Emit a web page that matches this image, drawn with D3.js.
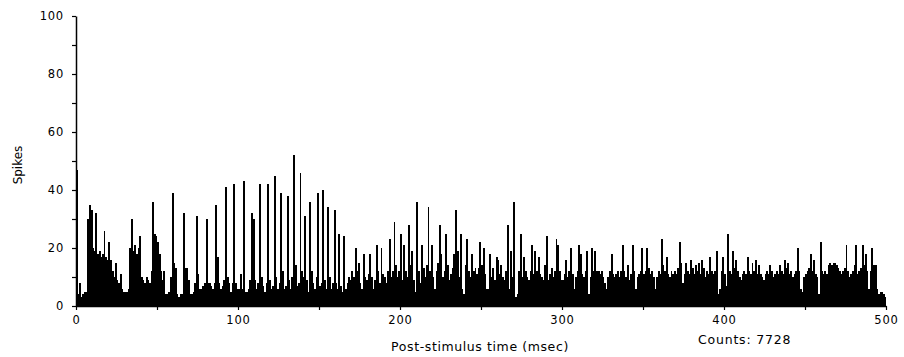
<!DOCTYPE html>
<html>
<head>
<meta charset="utf-8">
<script src="https://cdn.jsdelivr.net/npm/d3@7"></script>
<style>
  body { margin: 0; background: #fff; }
  svg { display: block; }
  text { font-family: "DejaVu Sans", Arial, sans-serif; fill: #000; }
</style>
</head>
<body>
<script>
// spikes per 1 ms bin, 0..499 ms
const spikes = [
  47,4,8,3,4,5,5,30,35,33,
  20,19,32,18,19,17,18,26,17,16,
  22,16,12,10,15,9,8,11,6,5,
  5,5,6,20,30,19,21,18,20,24,
  10,9,8,10,9,8,12,36,25,24,
  22,18,12,9,12,4,4,5,10,39,
  15,13,4,3,4,4,32,13,13,9,
  4,4,5,8,31,11,6,6,7,8,
  30,8,8,7,6,8,35,17,8,6,
  7,9,41,10,8,5,8,42,8,6,
  6,11,6,43,5,5,6,9,32,30,
  9,6,8,42,10,7,5,8,42,9,
  6,7,45,10,6,8,39,12,6,7,
  38,9,6,10,52,14,7,8,46,12,
  10,31,9,5,36,12,8,6,10,39,
  7,8,40,9,6,34,10,6,8,33,
  8,6,25,7,5,24,6,8,10,9,
  12,10,20,12,15,8,6,18,10,9,
  11,18,10,6,9,21,12,8,20,11,
  10,8,12,23,10,12,29,14,10,12,
  25,9,21,12,10,28,14,19,9,5,
  36,12,8,21,13,10,14,34,12,21,
  10,6,12,15,28,18,10,12,25,14,
  9,11,13,18,33,19,10,25,6,4,
  14,23,12,10,18,12,13,11,13,22,
  14,20,11,6,6,18,10,13,9,17,
  16,11,14,10,9,12,28,6,19,10,
  36,3,4,12,25,10,17,12,10,9,
  12,21,11,19,12,17,11,10,9,14,
  24,9,11,13,10,12,23,21,12,9,
  9,11,16,10,12,20,11,6,10,12,
  21,18,11,10,12,19,4,10,20,12,
  19,12,12,11,12,10,8,6,10,12,
  18,11,10,11,12,10,12,21,12,10,
  14,9,11,21,12,6,10,11,12,20,
  11,12,20,13,11,12,10,6,10,12,
  11,23,14,12,17,11,10,12,11,12,
  11,13,22,15,8,11,15,12,11,16,
  13,11,14,12,15,11,16,13,10,12,
  11,17,12,11,12,19,4,6,12,17,
  11,7,25,12,11,19,13,16,12,10,
  9,11,12,11,17,12,11,15,12,16,
  11,14,11,10,9,11,12,11,14,12,
  10,11,12,11,14,12,11,16,13,15,
  11,12,10,11,12,20,12,6,5,10,
  11,12,13,18,12,16,11,10,4,22,
  12,11,12,11,14,15,14,15,15,14,
  13,12,11,12,13,21,12,10,11,12,
  14,21,11,12,13,21,14,18,12,6,
  12,20,14,14,6,4,5,5,4,3
];
const yTicks = [0, 10, 20, 30, 40, 50, 60, 70, 80, 90, 100];
const xTicks = [0, 50, 100, 150, 200, 250, 300, 350, 400, 450, 500];
const totalCounts = 7728;

const width = 904, height = 357;

const svg = d3.select('body').append('svg')
  .attr('width', width)
  .attr('height', height);

const x = d3.scaleLinear().domain([0, 500]).range([76, 886]);
const y = d3.scaleLinear().domain([0, 100]).range([306, 16]);

// histogram bars - crisp so neighbouring bins merge into solid black
svg.append('g')
  .attr('shape-rendering', 'crispEdges')
  .selectAll('rect')
  .data(spikes)
  .enter()
  .append('rect')
  .attr('x', (d, i) => x(i))
  .attr('width', (d, i) => x(i + 1) - x(i) + 0.3)
  .attr('y', d => y(d))
  .attr('height', d => y(0) - y(d))
  .attr('fill', '#000');

// y axis
const yAxis = svg.append('g')
  .attr('transform', `translate(${x(0)},0)`)
  .call(d3.axisLeft(y)
    .tickValues(yTicks)
    .tickFormat(d => d % 20 === 0 ? d : '')
    .tickSize(4)
    .tickSizeOuter(0)
    .tickPadding(8));

// x axis
const xAxis = svg.append('g')
  .attr('transform', `translate(0,${y(0)})`)
  .call(d3.axisBottom(x)
    .tickValues(xTicks)
    .tickFormat(d => d % 100 === 0 ? d : '')
    .tickSize(4)
    .tickSizeOuter(0)
    .tickPadding(6));

[yAxis, xAxis].forEach(g => {
  g.select('.domain').attr('stroke', '#000').attr('stroke-width', 1.5);
  g.selectAll('.tick line').attr('stroke', '#000').attr('stroke-width', 1.2);
  g.selectAll('.tick text')
    .style('font-family', '"DejaVu Sans", Arial, sans-serif')
    .style('font-size', '11.5px')
    .style('letter-spacing', '0.8px');
});

// labels
svg.append('text')
  .attr('transform', 'translate(22,165) rotate(-90)')
  .style('font-size', '12px')
  .style('text-anchor', 'middle')
  .text('Spikes');

svg.append('text')
  .attr('x', 480)
  .attr('y', 351)
  .style('font-size', '12.5px')
  .style('letter-spacing', '0.6px')
  .style('text-anchor', 'middle')
  .text('Post-stimulus time (msec)');

svg.append('text')
  .attr('x', 698)
  .attr('y', 344)
  .style('font-size', '12.5px')
  .style('letter-spacing', '0.8px')
  .text('Counts: ' + totalCounts);
</script>
</body>
</html>
